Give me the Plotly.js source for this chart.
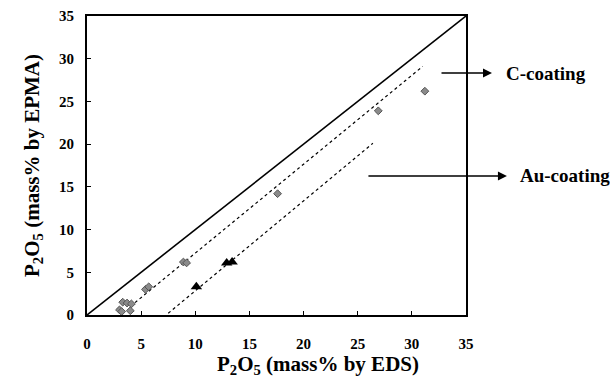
<!DOCTYPE html>
<html>
<head>
<meta charset="utf-8">
<script src="https://cdn.plot.ly/plotly-3.0.1.min.js"></script>
</head>
<body style="margin:0">
<div id="chart" style="width:610px;height:391px"></div>
<script>
// C-coating measurements (EDS vs EPMA, mass% P2O5)
var cEDS  = [3.0, 3.2, 4.0, 3.3, 3.7, 4.1, 5.4, 5.7, 8.9, 9.2, 17.6, 26.9, 31.2];
var cEPMA = [0.6, 0.4, 0.5, 1.5, 1.4, 1.3, 3.0, 3.3, 6.2, 6.1, 14.2, 23.9, 26.2];
// Au-coating measurements
var auEDS  = [10.1, 12.9, 13.4];
var auEPMA = [3.3, 6.1, 6.2];
// reference line y = x
var refX = [0, 35];
var refY = [0, 35];
// fitted trend lines
var cFitX = [4.0, 31.0];
var cFitY = [1.0, 29.1];
var auFitX = [7.5, 26.4];
var auFitY = [0.2, 20.1];
var ticks = [0, 5, 10, 15, 20, 25, 30, 35];

var fontFam = 'Times New Roman';

var traces = [
  {x: refX, y: refY, mode: 'lines', line: {color: '#000', width: 1.6}, hoverinfo: 'skip'},
  {x: cFitX, y: cFitY, mode: 'lines', line: {color: '#000', width: 1.2, dash: '3px,3px'}, hoverinfo: 'skip'},
  {x: auFitX, y: auFitY, mode: 'lines', line: {color: '#000', width: 1.2, dash: '3px,3px'}, hoverinfo: 'skip'},
  {x: cEDS, y: cEPMA, mode: 'markers', marker: {symbol: 'diamond', size: 6, color: '#8a8a8a', line: {color: '#555', width: 1}}, cliponaxis: false},
  {x: auEDS, y: auEPMA, mode: 'markers', marker: {symbol: 'triangle-up', size: 10, color: '#000'}, cliponaxis: false}
];

var axisCommon = {
  range: [0, 35], tickvals: ticks, ticktext: ticks.map(String),
  showgrid: false, zeroline: false, showline: true, mirror: true,
  linecolor: '#000', linewidth: 2, ticks: 'inside', ticklen: 4, tickcolor: '#000', tickwidth: 1,
  tickfont: {family: fontFam, size: 15, color: '#000', weight: 'bold'}
};

var layout = {
  width: 610, height: 391,
  margin: {l: 87, r: 144, t: 16, b: 76},
  paper_bgcolor: '#fff', plot_bgcolor: '#fff',
  showlegend: false,
  xaxis: Object.assign({}, axisCommon, {ticklabelstandoff: 14}),
  yaxis: Object.assign({}, axisCommon, {
    ticklabelstandoff: 8,
    title: {text: 'P<sub>2</sub>O<sub>5</sub> (mass% by EPMA)', font: {family: fontFam, size: 21, color: '#000', weight: 'bold'}, standoff: 14}
  }),
  annotations: [
    {xref: 'paper', yref: 'paper', x: 0.61, y: -0.167, xanchor: 'center', yanchor: 'middle',
     text: 'P<sub>2</sub>O<sub>5</sub> (mass% by EDS)', showarrow: false, font: {family: fontFam, size: 21, color: '#000', weight: 'bold'}},
    {xref: 'paper', yref: 'paper', x: 1.0686, y: 0.809, ax: -52, ay: 0, axref: 'pixel', ayref: 'pixel',
     text: '', showarrow: true, arrowhead: 2, arrowsize: 1.2, arrowwidth: 1.5, arrowcolor: '#000'},
    {xref: 'paper', yref: 'paper', x: 1.10, y: 0.809, xanchor: 'left', yanchor: 'middle',
     text: '<b>C-coating</b>', showarrow: false, font: {family: fontFam, size: 19, color: '#000'}},
    {xref: 'paper', yref: 'paper', x: 1.108, y: 0.465, ax: -140, ay: 0, axref: 'pixel', ayref: 'pixel',
     text: '', showarrow: true, arrowhead: 2, arrowsize: 1.2, arrowwidth: 1.5, arrowcolor: '#000'},
    {xref: 'paper', yref: 'paper', x: 1.137, y: 0.465, xanchor: 'left', yanchor: 'middle',
     text: '<b>Au-coating</b>', showarrow: false, font: {family: fontFam, size: 19, color: '#000'}}
  ]
};

Plotly.newPlot('chart', traces, layout, {displayModeBar: false});
</script>
</body>
</html>
